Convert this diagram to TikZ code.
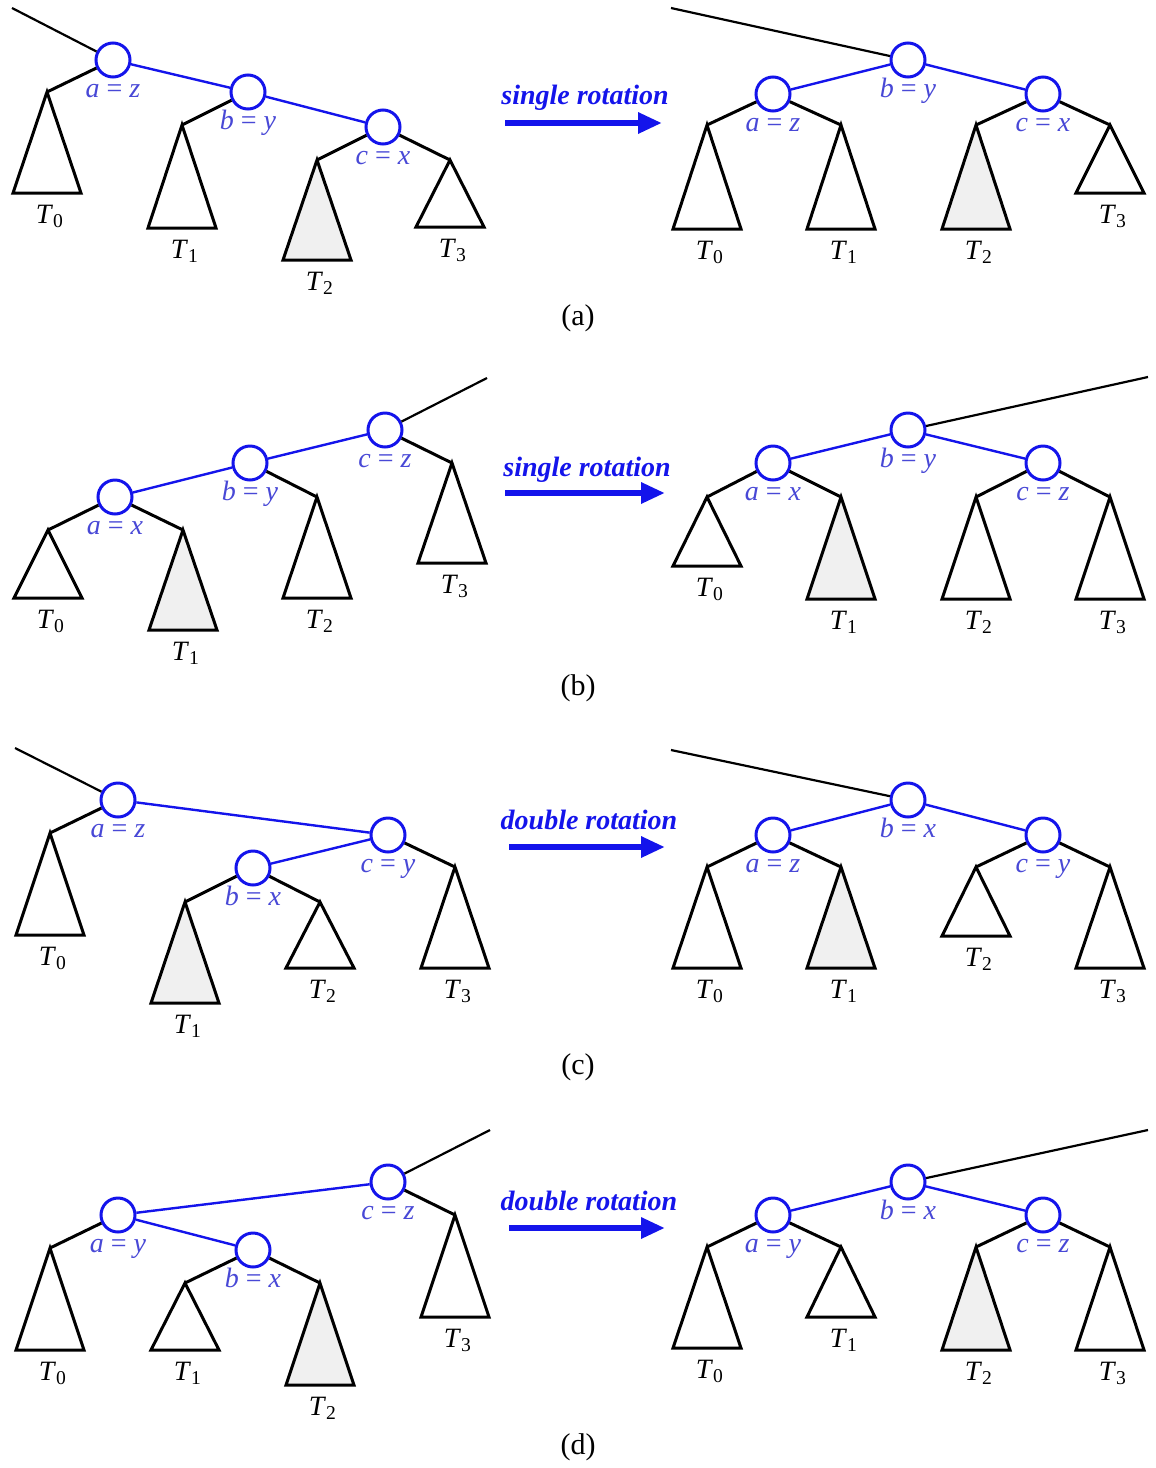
\documentclass[tikz,border=0pt]{standalone}
\usepackage{fontspec}
\setmainfont{Liberation Serif}
\usepackage{tikz}
\usetikzlibrary{arrows.meta}
\definecolor{keyblue}{RGB}{20, 20, 235}
\definecolor{tagblue}{RGB}{72, 72, 214}
\definecolor{treeshade}{RGB}{240, 240, 240}

\newcommand{\keynode}[5]{%
  \node[keycirc] (#1) at (#2,#3) {};
  \node[keytext] (#1t) at (#2,#3+37) {\textit{#4} = \textit{#5}};}
\newcommand{\subtree}[6][white]{%
  \coordinate (#2) at (#3,#4);
  \draw[subtri, fill=#1] (#2) -- (#3-34,#5) -- (#3+34,#5) -- cycle;
  \node[subtext] (#2t) at (#3+3,#5+30) {\textit{T}\textsubscript{#6}};}

\begin{document}
\begin{tikzpicture}[x=0.5pt, y=-0.5pt,
  keycirc/.style={circle, draw=keyblue, line width=1.5pt, fill=white, minimum size=17pt, inner sep=0pt},
  keytext/.style={text=tagblue, anchor=base, inner sep=0pt, font=\fontsize{14}{16}\selectfont},
  subtri/.style={line width=1.5pt, line join=miter},
  subtext/.style={anchor=base, inner sep=0pt, font=\fontsize{14}{16}\selectfont},
  branch/.style={line width=1.5pt},
  uplink/.style={line width=1.1pt},
  keylink/.style={keyblue, line width=1.2pt},
  rotarrow/.style={keyblue, line width=3pt, -{Triangle[length=12pt, width=10pt]}},
  rottext/.style={text=keyblue, anchor=base, font=\fontsize{14}{16}\selectfont\bfseries\itshape},
  captext/.style={font=\fontsize{15}{17}\selectfont}]
  \useasboundingbox (0,0) rectangle (1156,1468);

  % (a)
  \keynode{a1l}{113}{60}{a}{z}
  \keynode{b1l}{248}{92}{b}{y}
  \keynode{c1l}{383}{127}{c}{x}
  \subtree{s1l0}{47}{92}{193}{0}
  \subtree{s1l1}{182}{125}{228}{1}
  \subtree[treeshade]{s1l2}{317}{160}{260}{2}
  \subtree{s1l3}{450}{160}{227}{3}
  \coordinate (up1l) at (12,8);
  \draw[uplink] (up1l) -- (a1l);
  \draw[keylink] (a1l) -- (b1l) (b1l) -- (c1l);
  \draw[branch] (a1l) -- (s1l0) (b1l) -- (s1l1) (c1l) -- (s1l2) (c1l) -- (s1l3);

  \keynode{a1r}{773}{94}{a}{z}
  \keynode{b1r}{908}{60}{b}{y}
  \keynode{c1r}{1043}{94}{c}{x}
  \subtree{s1r0}{707}{125}{229}{0}
  \subtree{s1r1}{841}{125}{229}{1}
  \subtree[treeshade]{s1r2}{976}{125}{229}{2}
  \subtree{s1r3}{1110}{125}{193}{3}
  \coordinate (up1r) at (671,8);
  \draw[uplink] (up1r) -- (b1r);
  \draw[keylink] (b1r) -- (a1r) (b1r) -- (c1r);
  \draw[branch] (a1r) -- (s1r0) (a1r) -- (s1r1) (c1r) -- (s1r2) (c1r) -- (s1r3);

  \node[rottext] (rot1) at (585,104) {single rotation};
  \coordinate (r1s) at (505,123);
  \coordinate (r1e) at (662,123);
  \draw[rotarrow] (r1s) -- (r1e);
  \node[captext] (cap1) at (578,318) {(a)};

  % (b)
  \keynode{a2l}{115}{497}{a}{x}
  \keynode{b2l}{250}{463}{b}{y}
  \keynode{c2l}{385}{430}{c}{z}
  \subtree{s2l0}{48}{530}{598}{0}
  \subtree[treeshade]{s2l1}{183}{530}{630}{1}
  \subtree{s2l2}{317}{497}{598}{2}
  \subtree{s2l3}{452}{463}{563}{3}
  \coordinate (up2l) at (487,378);
  \draw[uplink] (c2l) -- (up2l);
  \draw[keylink] (a2l) -- (b2l) (b2l) -- (c2l);
  \draw[branch] (a2l) -- (s2l0) (a2l) -- (s2l1) (b2l) -- (s2l2) (c2l) -- (s2l3);

  \keynode{a2r}{773}{463}{a}{x}
  \keynode{b2r}{908}{430}{b}{y}
  \keynode{c2r}{1043}{463}{c}{z}
  \subtree{s2r0}{707}{497}{566}{0}
  \subtree[treeshade]{s2r1}{841}{497}{599}{1}
  \subtree{s2r2}{976}{497}{599}{2}
  \subtree{s2r3}{1110}{497}{599}{3}
  \coordinate (up2r) at (1148,377);
  \draw[uplink] (b2r) -- (up2r);
  \draw[keylink] (b2r) -- (a2r) (b2r) -- (c2r);
  \draw[branch] (a2r) -- (s2r0) (a2r) -- (s2r1) (c2r) -- (s2r2) (c2r) -- (s2r3);

  \node[rottext] (rot2) at (587,476) {single rotation};
  \coordinate (r2s) at (505,493);
  \coordinate (r2e) at (665,493);
  \draw[rotarrow] (r2s) -- (r2e);
  \node[captext] (cap2) at (578,688) {(b)};

  % (c)
  \keynode{a3l}{118}{800}{a}{z}
  \keynode{b3l}{253}{868}{b}{x}
  \keynode{c3l}{388}{835}{c}{y}
  \subtree{s3l0}{50}{833}{935}{0}
  \subtree[treeshade]{s3l1}{185}{902}{1003}{1}
  \subtree{s3l2}{320}{902}{968}{2}
  \subtree{s3l3}{455}{867}{968}{3}
  \coordinate (up3l) at (15,748);
  \draw[uplink] (up3l) -- (a3l);
  \draw[keylink] (a3l) -- (c3l) (c3l) -- (b3l);
  \draw[branch] (a3l) -- (s3l0) (b3l) -- (s3l1) (b3l) -- (s3l2) (c3l) -- (s3l3);

  \keynode{a3r}{773}{835}{a}{z}
  \keynode{b3r}{908}{800}{b}{x}
  \keynode{c3r}{1043}{835}{c}{y}
  \subtree{s3r0}{707}{867}{968}{0}
  \subtree[treeshade]{s3r1}{841}{867}{968}{1}
  \subtree{s3r2}{976}{867}{936}{2}
  \subtree{s3r3}{1110}{867}{968}{3}
  \coordinate (up3r) at (671,750);
  \draw[uplink] (up3r) -- (b3r);
  \draw[keylink] (b3r) -- (a3r) (b3r) -- (c3r);
  \draw[branch] (a3r) -- (s3r0) (a3r) -- (s3r1) (c3r) -- (s3r2) (c3r) -- (s3r3);

  \node[rottext] (rot3) at (589,829) {double rotation};
  \coordinate (r3s) at (509,847);
  \coordinate (r3e) at (665,847);
  \draw[rotarrow] (r3s) -- (r3e);
  \node[captext] (cap3) at (578,1067) {(c)};

  % (d)
  \keynode{a4l}{118}{1215}{a}{y}
  \keynode{b4l}{253}{1250}{b}{x}
  \keynode{c4l}{388}{1182}{c}{z}
  \subtree{s4l0}{50}{1248}{1350}{0}
  \subtree{s4l1}{185}{1283}{1350}{1}
  \subtree[treeshade]{s4l2}{320}{1283}{1385}{2}
  \subtree{s4l3}{455}{1215}{1317}{3}
  \coordinate (up4l) at (490,1130);
  \draw[uplink] (c4l) -- (up4l);
  \draw[keylink] (a4l) -- (c4l) (a4l) -- (b4l);
  \draw[branch] (a4l) -- (s4l0) (b4l) -- (s4l1) (b4l) -- (s4l2) (c4l) -- (s4l3);

  \keynode{a4r}{773}{1215}{a}{y}
  \keynode{b4r}{908}{1182}{b}{x}
  \keynode{c4r}{1043}{1215}{c}{z}
  \subtree{s4r0}{707}{1247}{1348}{0}
  \subtree{s4r1}{841}{1247}{1317}{1}
  \subtree[treeshade]{s4r2}{976}{1247}{1350}{2}
  \subtree{s4r3}{1110}{1247}{1350}{3}
  \coordinate (up4r) at (1148,1130);
  \draw[uplink] (b4r) -- (up4r);
  \draw[keylink] (b4r) -- (a4r) (b4r) -- (c4r);
  \draw[branch] (a4r) -- (s4r0) (a4r) -- (s4r1) (c4r) -- (s4r2) (c4r) -- (s4r3);

  \node[rottext] (rot4) at (589,1210) {double rotation};
  \coordinate (r4s) at (509,1228);
  \coordinate (r4e) at (665,1228);
  \draw[rotarrow] (r4s) -- (r4e);
  \node[captext] (cap4) at (578,1447) {(d)};
\end{tikzpicture}
\end{document}
